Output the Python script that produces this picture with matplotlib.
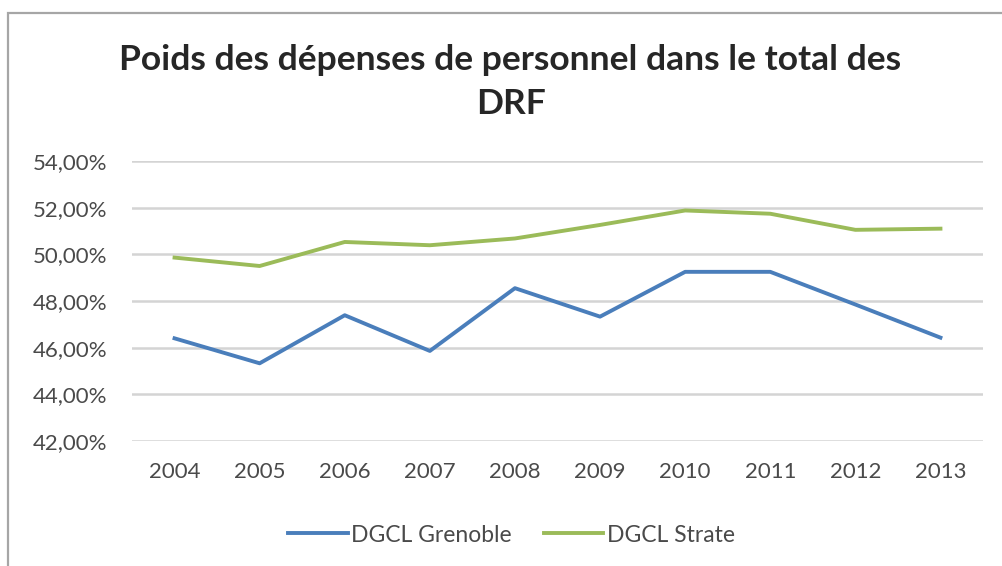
import matplotlib
matplotlib.use("Agg")
import matplotlib.pyplot as plt
from matplotlib.patches import Rectangle
from matplotlib.ticker import FuncFormatter

years = ["2004", "2005", "2006", "2007", "2008", "2009", "2010", "2011", "2012", "2013"]
grenoble = [46.40, 45.33, 47.39, 45.86, 48.55, 47.33, 49.25, 49.25, 47.85, 46.43]
strate = [49.86, 49.50, 50.53, 50.39, 50.68, 51.26, 51.88, 51.74, 51.05, 51.10]

title_line1 = "Poids des dépenses de personnel dans le total des"
title_line2 = "DRF"

plt.rcParams['font.family'] = ['Lato', 'DejaVu Sans']

fig = plt.figure(figsize=(10.03, 5.66), dpi=100)
fig.patch.set_facecolor("white")

# grey outline of the chart area (right and bottom edges fall outside the picture)
fig.patches.append(Rectangle((8 / 1003, -0.05), 1.2, 1 - 13 / 566 + 0.05,
                             transform=fig.transFigure, fill=False,
                             edgecolor="#a6a6a6", linewidth=1.6))

ax = fig.add_axes([132 / 1003, 1 - 441 / 566, 851 / 1003, 280 / 566])

x = list(range(len(years)))
ax.plot(x, grenoble, color="#4a7ebb", linewidth=2.8, label="DGCL Grenoble")
ax.plot(x, strate, color="#9bbb59", linewidth=2.8, label="DGCL Strate")

ax.set_xlim(-0.5, len(years) - 0.5)
ax.set_ylim(42, 54)
ax.set_yticks([42, 44, 46, 48, 50, 52, 54])
ax.yaxis.set_major_formatter(FuncFormatter(lambda v, p: f"{v:.2f}".replace(".", ",") + "%"))
ax.set_xticks(x)
ax.set_xticklabels(years)

ax.grid(axis="y", color="#d4d4d4", linewidth=1.8)
ax.set_axisbelow(True)
for s in ax.spines.values():
    s.set_visible(False)
ax.tick_params(axis="both", length=0, labelsize=16, colors="#4a4a4a")
ax.tick_params(axis="y", pad=18)
ax.tick_params(axis="x", pad=15)

fig.text(0.509, 1 - 60 / 566, title_line1, ha="center", va="center",
         fontsize=25.5, fontweight="bold", color="#262626")
fig.text(0.509, 1 - 104 / 566, title_line2, ha="center", va="center",
         fontsize=25.5, fontweight="bold", color="#262626")

fig.legend(loc="center", bbox_to_anchor=(0.510, 1 - 535 / 566), ncol=2, frameon=False,
           fontsize=16.5, labelcolor="#4a4a4a", handlelength=2.6, handletextpad=0.15,
           columnspacing=1.4)

fig.savefig("out.png", dpi=100, facecolor="white")
